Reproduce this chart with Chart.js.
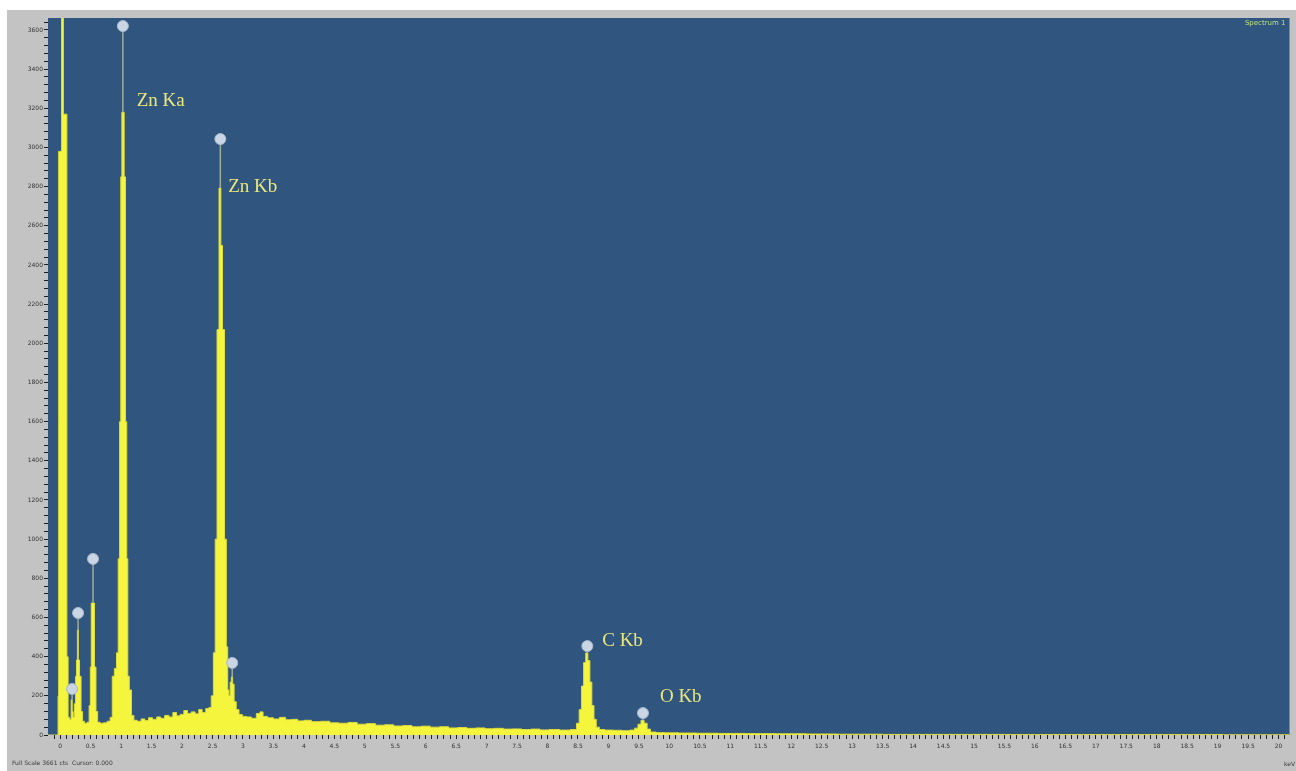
<!DOCTYPE html>
<html>
<head>
<meta charset="utf-8">
<title>EDS spectrum</title>
<script src="https://cdn.jsdelivr.net/npm/chart.js@4.4.1/dist/chart.umd.min.js"></script>
<style>
  html, body { margin: 0; padding: 0; background: #ffffff; }
  #wrap { position: relative; width: 1296px; height: 771px; }
  canvas { display: block; }
</style>
</head>
<body>
<div id="wrap"><canvas id="spec" width="1296" height="771"></canvas></div>
<script>
// Spectrum: energy (keV) and counts, read channel group by channel group
const energy = [
  -0.20, -0.04, -0.03, -0.02, 0.02, 0.025, 0.05, 0.055, 0.10, 0.12,
  0.14, 0.17, 0.19, 0.205, 0.22, 0.245, 0.26, 0.275, 0.29, 0.305,
  0.33, 0.355, 0.38, 0.42, 0.46, 0.49, 0.50, 0.52, 0.55, 0.575,
  0.60, 0.63, 0.68, 0.74, 0.80, 0.84, 0.87, 0.91, 0.94, 0.965,
  0.985, 1.005, 1.02, 1.04, 1.06, 1.085, 1.10, 1.12, 1.15, 1.19,
  1.23, 1.30, 1.36, 1.42, 1.48, 1.55, 1.62, 1.68, 1.75, 1.82,
  1.88, 1.94, 2.00, 2.06, 2.12, 2.18, 2.25, 2.30, 2.36, 2.42,
  2.46, 2.50, 2.53, 2.56, 2.59, 2.625, 2.65, 2.68, 2.715, 2.74,
  2.76, 2.78, 2.80, 2.82, 2.84, 2.87, 2.91, 2.96, 3.02, 3.10,
  3.18, 3.26, 3.30, 3.36, 3.45, 3.55, 3.65, 3.75, 3.85, 3.95,
  4.05, 4.20, 4.35, 4.50, 4.65, 4.80, 4.95, 5.10, 5.25, 5.40,
  5.55, 5.70, 5.85, 6.00, 6.15, 6.30, 6.45, 6.60, 6.75, 6.90,
  7.05, 7.20, 7.35, 7.50, 7.65, 7.80, 7.95, 8.10, 8.30, 8.45,
  8.50, 8.54, 8.575, 8.61, 8.645, 8.68, 8.71, 8.745, 8.78, 8.82,
  8.88, 9.00, 9.15, 9.30, 9.40, 9.46, 9.51, 9.56, 9.61, 9.66,
  9.72, 9.85, 10.0, 10.3, 10.6, 11.0, 11.5, 12.0, 12.5, 13.0,
  14.0, 15.0, 16.0, 17.0, 18.0, 20.18
];
const counts = [
  0, 0, 200, 2980, 2980, 4400, 4400, 3170, 3170, 400,
  90, 80, 180, 120, 90, 160, 300, 383, 536, 383,
  300, 120, 70, 60, 65, 150, 347, 674, 674, 347,
  120, 65, 60, 62, 70, 90, 300, 340, 420, 900,
  1600, 2850, 3180, 3180, 2850, 1600, 900, 300, 230, 100,
  75, 70, 82, 74, 88, 80, 92, 85, 100, 92,
  115, 98, 105, 125, 110, 118, 108, 130, 115, 135,
  140, 200, 420, 1000, 2070, 2793, 2500, 2070, 1000, 450,
  230, 200, 270, 296, 260, 170, 130, 105, 95, 92,
  85, 110, 118, 95, 88, 82, 90, 78, 80, 72,
  75, 68, 70, 62, 60, 64, 55, 58, 50, 52,
  46, 48, 42, 45, 40, 42, 36, 38, 34, 36,
  32, 34, 30, 31, 28, 30, 26, 28, 25, 28,
  60, 130, 250, 370, 419, 380, 270, 150, 80, 40,
  28, 25, 24, 22, 25, 35, 55, 75, 60, 30,
  15, 12, 11, 10, 9, 8, 7, 6, 5, 4,
  3, 3, 2, 2, 2, 1
];

// Peak markers: line energy, top of the peak, and the marker head
const markerEnergy = [0.196, 0.294, 0.539, 1.029, 2.629, 2.824, 8.653, 9.567];
const markerPeak   = [180, 536, 674, 3181, 2793, 296, 419, 75];
const markerHead   = [235, 623, 899, 3620, 3043, 368, 454, 112];

// Element line labels and their anchor (energy, counts)
const lineLabels  = ['Zn Ka', 'Zn Kb', 'C Kb', 'O Kb'];
const labelEnergy = [1.257, 2.759, 8.898, 9.845];
const labelCounts = [3237, 2798, 480, 194];

// Axis tick labels
const xTickLabels = ['0','0.5','1','1.5','2','2.5','3','3.5','4','4.5','5','5.5','6','6.5','7','7.5','8','8.5','9','9.5',
                     '10','10.5','11','11.5','12','12.5','13','13.5','14','14.5','15','15.5','16','16.5','17','17.5','18','18.5','19','19.5','20'];
const yTickLabels = ['0','200','400','600','800','1000','1200','1400','1600','1800','2000','2200','2400','2600','2800','3000','3200','3400','3600'];

const fullScale = 3661;
const footerText = 'Full Scale 3661 cts  Cursor: 0.000';
const spectrumName = 'Spectrum 1';
const unitText = 'keV';

// build datasets from the arrays
const specPoints = energy.map((e, i) => ({ x: e, y: counts[i] }));
const stemPoints = [];
markerEnergy.forEach((e, i) => {
  stemPoints.push({ x: e, y: markerPeak[i] });
  stemPoints.push({ x: e, y: markerHead[i] });
  stemPoints.push({ x: e, y: null });
});
const headPoints = markerEnergy.map((e, i) => ({ x: e, y: markerHead[i] }));

const xLabelVals = xTickLabels.map(Number);
const yLabelVals = yTickLabels.map(Number);

function labelFor(vals, strs, v) {
  for (let i = 0; i < vals.length; i++) {
    if (Math.abs(vals[i] - v) < 1e-6) return strs[i];
  }
  return '';
}

const frame = {
  id: 'frame',
  beforeDraw(chart) {
    const { ctx, chartArea: a, width, height } = chart;
    ctx.save();
    ctx.fillStyle = '#ffffff';
    ctx.fillRect(0, 0, width, height);
    ctx.fillStyle = '#c3c3c3';
    ctx.fillRect(7, 10, width - 7, height - 10);
    ctx.fillStyle = '#30557f';
    ctx.fillRect(a.left, a.top, a.right - a.left, a.bottom - a.top);
    ctx.restore();
  },
  afterDraw(chart) {
    const { ctx, scales } = chart;
    const xs = scales.x, ys = scales.y;
    ctx.save();
    // element labels
    ctx.font = '19px "Liberation Serif", "DejaVu Serif", serif';
    ctx.fillStyle = '#e9e77a';
    ctx.textBaseline = 'middle';
    ctx.textAlign = 'left';
    lineLabels.forEach((t, i) => {
      ctx.fillText(t, xs.getPixelForValue(labelEnergy[i]), ys.getPixelForValue(labelCounts[i]));
    });
    // spectrum name, top right
    ctx.font = '7px "DejaVu Sans", sans-serif';
    ctx.fillStyle = '#bfe07f';
    ctx.textAlign = 'right';
    ctx.fillText(spectrumName, chart.chartArea.right - 4, chart.chartArea.top + 5);
    // footer and unit
    ctx.fillStyle = '#3a3a3a';
    ctx.font = '6px "DejaVu Sans", sans-serif';
    ctx.textAlign = 'left';
    ctx.fillText(footerText, 12, 763);
    ctx.textAlign = 'right';
    ctx.fillText(unitText, 1295, 764);
    ctx.restore();
  }
};

new Chart(document.getElementById('spec'), {
  type: 'scatter',
  data: {
    datasets: [
      {
        data: specPoints,
        showLine: true,
        stepped: 'middle',
        fill: 'origin',
        backgroundColor: '#f6f53e',
        borderColor: '#dedd3a',
        borderWidth: 1,
        pointRadius: 0,
        order: 3
      },
      {
        data: stemPoints,
        showLine: true,
        spanGaps: false,
        fill: false,
        borderColor: '#9fae96',
        borderWidth: 1.5,
        pointRadius: 0,
        order: 2
      },
      {
        data: headPoints,
        showLine: false,
        pointRadius: 5.5,
        pointBackgroundColor: '#cad6e4',
        pointBorderColor: '#a9b9cd',
        pointBorderWidth: 1,
        order: 1
      }
    ]
  },
  options: {
    responsive: false,
    animation: false,
    events: [],
    layout: { padding: { left: 7, top: 18, right: 0, bottom: 0 } },
    plugins: { legend: { display: false }, tooltip: { enabled: false } },
    scales: {
      x: {
        type: 'linear',
        min: -0.2,
        max: 20.18,
        afterFit(s) { s.height = 36; },
        afterBuildTicks(s) {
          const t = [];
          for (let k = -1; k <= 201; k++) t.push({ value: Math.round(k) / 10 });
          s.ticks = t;
        },
        ticks: {
          autoSkip: false,
          maxRotation: 0,
          minRotation: 0,
          padding: 4,
          color: '#333333',
          font: { size: 6, family: '"DejaVu Sans", sans-serif' },
          callback: (v) => labelFor(xLabelVals, xTickLabels, v)
        },
        grid: { drawOnChartArea: false, drawTicks: true, tickLength: 4, tickColor: '#1e1e1e', tickWidth: 1 },
        border: { display: false }
      },
      y: {
        type: 'linear',
        min: 0,
        max: fullScale,
        afterFit(s) { s.width = 41; },
        afterBuildTicks(s) {
          const t = [];
          for (let v = 0; v <= 3640; v += 40) t.push({ value: v });
          s.ticks = t;
        },
        ticks: {
          autoSkip: false,
          padding: 1,
          color: '#333333',
          font: { size: 6, family: '"DejaVu Sans", sans-serif' },
          callback: (v) => labelFor(yLabelVals, yTickLabels, v)
        },
        grid: { drawOnChartArea: false, drawTicks: true, tickLength: 4, tickColor: '#1e1e1e', tickWidth: 1 },
        border: { display: false }
      }
    }
  },
  plugins: [frame]
});
</script>
</body>
</html>
